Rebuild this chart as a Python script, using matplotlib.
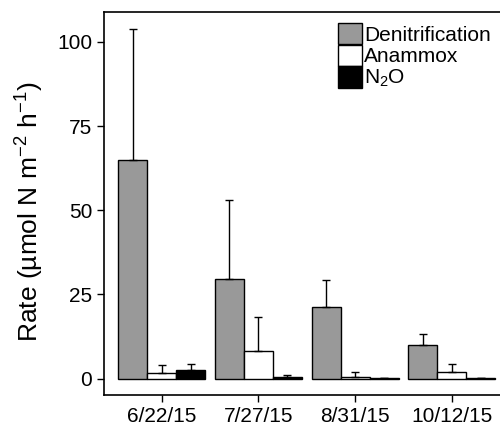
import numpy as np
import matplotlib
matplotlib.use("Agg")
import matplotlib.pyplot as plt

plt.rcParams['font.family'] = ['Liberation Sans', 'DejaVu Sans']
plt.rcParams['mathtext.fontset'] = 'custom'
plt.rcParams['mathtext.rm'] = 'Liberation Sans'
plt.rcParams['mathtext.it'] = 'Liberation Sans'

dates = ['6/22/15', '7/27/15', '8/31/15', '10/12/15']
denit = [64.8, 29.7, 21.3, 9.9]
denit_err = [39.0, 23.3, 7.9, 3.5]
anammox = [1.7, 8.2, 0.5, 2.0]
anammox_err = [2.5, 10.1, 1.5, 2.5]
n2o = [2.5, 0.5, 0.2, 0.1]
n2o_err = [2.0, 0.7, 0.1, 0.0]

fig = plt.figure(figsize=(5, 4.24), dpi=100)
ax = fig.add_axes([0.208, 0.068, 0.802, 0.903])

x = np.arange(len(dates))
w = 0.3
series = [
    (denit, denit_err, '#999999', 'Denitrification', -w),
    (anammox, anammox_err, 'white', 'Anammox', 0),
    (n2o, n2o_err, 'black', r'N$\mathregular{_2}$O', w),
]
for vals, errs, col, lab, off in series:
    ax.bar(x + off, vals, w, color=col, edgecolor='black', linewidth=1, label=lab,
           yerr=[np.zeros(len(errs)), errs],
           error_kw=dict(ecolor='black', elinewidth=1, capsize=3, capthick=1))

ax.set_xlim(-0.596, 3.55)
ax.set_ylim(-4.9, 108.8)
ax.set_xticks(x)
ax.set_xticklabels(dates)
ax.set_yticks([0, 25, 50, 75, 100])
ax.tick_params(labelsize=15, length=5, width=1)
ax.set_ylabel(r'Rate (µmol N m$^{\mathregular{-2}}$ h$^{\mathregular{-1}}$)', fontsize=19)
ax.yaxis.set_label_coords(-0.145, 0.478)
for s in ax.spines.values():
    s.set_linewidth(1.2)
ax.spines['right'].set_visible(False)

ax.legend(loc='upper left', bbox_to_anchor=(0.583, 0.972), frameon=False, fontsize=15,
          handlelength=1.15, handleheight=1.2, labelspacing=0, handletextpad=0.12,
          borderpad=0, borderaxespad=0)

fig.savefig('out.png', dpi=100)
